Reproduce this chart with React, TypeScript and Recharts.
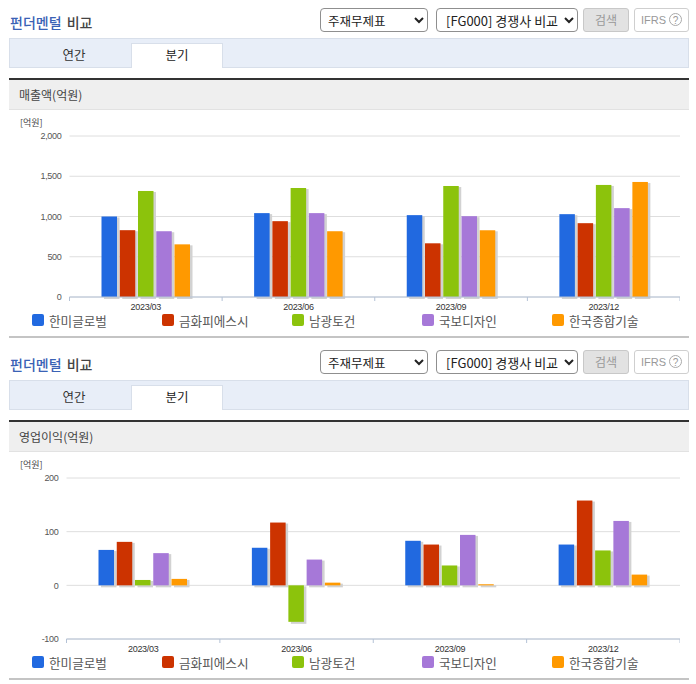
import { BarChart, Bar, XAxis, YAxis, CartesianGrid, Legend } from 'recharts'

const periods = ['2023/03', '2023/06', '2023/09', '2023/12']
const companies = ['한미글로벌', '금화피에스시', '남광토건', '국보디자인', '한국종합기술']
const colors = ['#2169e0', '#cc3300', '#8cc30c', '#a678d8', '#ff9900']

const revenueHanmi = [1000, 1042, 1017, 1029]
const revenueGeumhwa = [830, 942, 667, 917]
const revenueNamkwang = [1317, 1354, 1379, 1392]
const revenueGukbo = [817, 1042, 1004, 1104]
const revenueHankook = [654, 817, 829, 1429]
const revenueTicks = [0, 500, 1000, 1500, 2000]

const profitHanmi = [66, 70, 83, 76]
const profitGeumhwa = [81, 117, 76, 158]
const profitNamkwang = [10, -68, 37, 65]
const profitGukbo = [60, 48, 94, 120]
const profitHankook = [12, 5, 2, 20]
const profitTicks = [-100, 0, 100, 200]

const revenueSeries = [revenueHanmi, revenueGeumhwa, revenueNamkwang, revenueGukbo, revenueHankook]
const profitSeries = [profitHanmi, profitGeumhwa, profitNamkwang, profitGukbo, profitHankook]

const FONT = '"Noto Sans CJK KR", "Noto Sans", sans-serif'
const AXIS_FONT = '"Liberation Sans", Arial, sans-serif'

function buildRows(series: number[][]) {
  return periods.map((period, i) => {
    const row: Record<string, string | number> = { period }
    companies.forEach((name, c) => {
      row[name] = series[c][i]
    })
    return row
  })
}

function ShadowBar(props: any) {
  const { x, y, width, height, fill } = props
  const top = Math.min(y, y + height)
  const h = Math.abs(height)
  return (
    <g>
      <rect x={x + 2.5} y={top + 1} width={width} height={h + 1} fill="#d2d2d2" />
      <rect x={x} y={top} width={width} height={h} fill={fill} />
    </g>
  )
}

function BandTick(props: any) {
  const { x, y, payload, band, index } = props
  const axisY = y - 8
  return (
    <g>
      <line x1={x - band / 2} x2={x - band / 2} y1={axisY} y2={axisY + 4} stroke="#b4c2d6" />
      {index === periods.length - 1 && (
        <line x1={x + band / 2} x2={x + band / 2} y1={axisY} y2={axisY + 4} stroke="#b4c2d6" />
      )}
      <text x={x} y={axisY + 13} textAnchor="middle" fontSize={9} letterSpacing={-0.3} fontFamily={AXIS_FONT} fill="#333">
        {payload.value}
      </text>
    </g>
  )
}

function LegendRow() {
  return (
    <div style={{ position: 'relative', height: 20, width: 680 }}>
      {companies.map((name, i) => (
        <div key={name} style={{ position: 'absolute', left: 32 + i * 130, top: 2, display: 'flex', alignItems: 'center', height: 12 }}>
          <span style={{ width: 12, height: 12, borderRadius: 2, background: colors[i], display: 'inline-block' }} />
          <span style={{ marginLeft: 5, fontSize: 12.6, color: '#555', fontFamily: FONT, whiteSpace: 'nowrap' }}>{name}</span>
        </div>
      ))}
    </div>
  )
}

function FundamentalChart({ series, ticks, domain, left }: { series: number[][]; ticks: number[]; domain: [number, number]; left: number }) {
  const plotWidth = 680 - left
  return (
    <BarChart
      width={680}
      height={220}
      data={buildRows(series)}
      margin={{ top: 24, right: 0, bottom: 0, left: 0 }}
      barSize={15.5}
      barGap={2.75}
    >
      <CartesianGrid vertical={false} stroke="#dedede" />
      <XAxis
        dataKey="period"
        height={15}
        stroke="#b4c2d6"
        tickLine={false}
        interval={0}
        tick={<BandTick band={plotWidth / periods.length} />}
      />
      <YAxis
        width={left}
        ticks={ticks}
        domain={domain}
        axisLine={false}
        tickLine={false}
        tickMargin={2}
        interval={0}
        tickFormatter={(v: number) => v.toLocaleString('en-US')}
        tick={{ fontSize: 9, fontFamily: AXIS_FONT, fill: '#555', letterSpacing: -0.3 }}
      />
      <Legend verticalAlign="bottom" height={20} content={<LegendRow />} wrapperStyle={{ left: 0, width: 680 }} />
      {companies.map((name, i) => (
        <Bar key={name} dataKey={name} fill={colors[i]} shape={<ShadowBar />} isAnimationActive={false} />
      ))}
    </BarChart>
  )
}

function Section({ top, title, series, ticks, domain, left }: { top: number; title: string; series: number[][]; ticks: number[]; domain: [number, number]; left: number }) {
  const control = { position: 'absolute', top: 8, height: 24, boxSizing: 'border-box', fontFamily: FONT, fontSize: 12 } as const
  return (
    <div style={{ position: 'absolute', left: 0, top, width: 696, height: 342, fontFamily: FONT }}>
      <div style={{ position: 'absolute', left: 10, top: 12, fontSize: 14, fontWeight: 500, lineHeight: '20px', color: '#444', wordSpacing: 2 }}>
        <span style={{ color: '#3a62b5' }}>펀더멘털</span> 비교
      </div>
      <select defaultValue="a" style={{ ...control, left: 320, width: 108, fontSize: 12.5, borderRadius: 4, border: '1px solid #8f8f8f', background: '#fff', color: '#222', paddingLeft: 3 }}>
        <option value="a">주재무제표</option>
      </select>
      <select defaultValue="a" style={{ ...control, left: 436, width: 142, fontSize: 13, borderRadius: 4, border: '1px solid #8f8f8f', background: '#fff', color: '#222', paddingLeft: 5 }}>
        <option value="a">[FG000] 경쟁사 비교</option>
      </select>
      <div style={{ ...control, left: 583, width: 46, borderRadius: 3, border: '1px solid #c8c8c8', background: '#e2e2e2', color: '#999', textAlign: 'center', lineHeight: '22px' }}>검색</div>
      <div style={{ ...control, left: 634, width: 55, borderRadius: 3, border: '1px solid #cfcfcf', background: '#fff', color: '#999', fontFamily: AXIS_FONT, fontSize: 11, lineHeight: '22px', paddingLeft: 6 }}>
        IFRS
        <span style={{ position: 'absolute', left: 34, top: 4, width: 13, height: 13, borderRadius: 7, border: '1px solid #aaa', fontSize: 10, lineHeight: '13px', textAlign: 'center', boxSizing: 'border-box' }}>?</span>
      </div>

      <div style={{ position: 'absolute', left: 9, top: 38, width: 680, height: 30, boxSizing: 'border-box', background: '#e8eef8', border: '1px solid #d8dfea' }} />
      <div style={{ position: 'absolute', left: 9, top: 42, width: 130, height: 25, lineHeight: '25px', textAlign: 'center', fontSize: 12.5, color: '#333' }}>연간</div>
      <div style={{ position: 'absolute', left: 131, top: 43, width: 92, height: 25, boxSizing: 'border-box', lineHeight: '22px', textAlign: 'center', fontSize: 12.5, color: '#222', background: '#fff', border: '1px solid #d8dfea', borderBottom: 'none' }}>분기</div>

      <div style={{ position: 'absolute', left: 9, top: 78, width: 680, height: 2, background: '#333' }} />
      <div style={{ position: 'absolute', left: 9, top: 80, width: 680, height: 30, boxSizing: 'border-box', background: '#efefef', borderBottom: '1px solid #e2e2e2', paddingLeft: 10, lineHeight: '29px', fontSize: 12, color: '#444' }}>{title}</div>

      <div style={{ position: 'absolute', left: 20, top: 117, fontSize: 9, lineHeight: '12px', color: '#444' }}>[억원]</div>
      <div style={{ position: 'absolute', left: 0, top: 112 }}>
        <FundamentalChart series={series} ticks={ticks} domain={domain} left={left} />
      </div>
      <div style={{ position: 'absolute', left: 9, top: 336, width: 680, height: 2, background: '#c4c4c4' }} />
    </div>
  )
}

export default function App() {
  return (
    <div style={{ position: 'absolute', left: 0, top: 0, width: 696, height: 684, background: '#fff', overflow: 'hidden' }}>
      <Section top={0} title="매출액(억원)" series={revenueSeries} ticks={revenueTicks} domain={[0, 2000]} left={69.5} />
      <Section top={342} title="영업이익(억원)" series={profitSeries} ticks={profitTicks} domain={[-100, 200]} left={66.5} />
    </div>
  )
}
